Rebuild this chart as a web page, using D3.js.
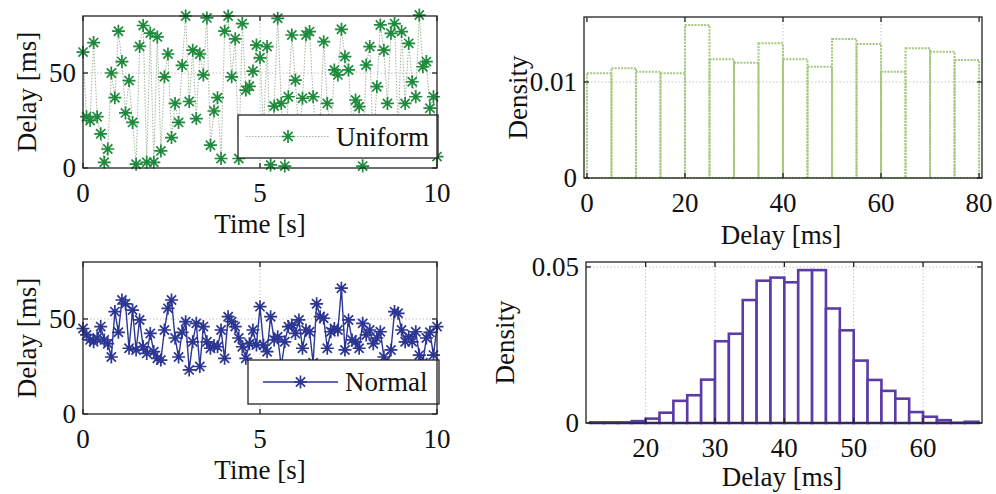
<!DOCTYPE html>
<html><head><meta charset="utf-8">
<script src="https://cdn.jsdelivr.net/npm/d3@7"></script>
<style>body{margin:0;background:#fff}svg{display:block}text{font-family:"Liberation Serif","Times New Roman",serif;fill:#111}</style>
</head><body><svg id="c" width="996" height="494"></svg>
<script>
// ---- data ----
const uniformDelay = [61,27,25,66,27,18,3,10,50,37,72,56,29,46,24,2,64,75,3,71,3,69,9,48,60,16,34,24,54,80,35,62,26,60,49,79,12,30,37,5,72,80,48,68,5,76,41,43,51,64.7,58,20,63.9,1.6,32.6,78.8,34,1,37.5,70,46.3,15,36.7,70,71.8,37.5,12,25,66.5,34,18,51.6,49,73,58.6,51.6,22,35.8,32.3,1,54.2,63.9,10,42.8,75.3,62,34,70.9,76,20,71.8,34,65.6,45.4,37.5,80.5,53.3,56,31.5,37.5,6];
const normalDelay = [45,41.6,39,38,40,46,39,37,30,53.9,43,60,58,34.6,54.7,33.7,49.5,35.4,31.9,42.4,32.8,29.3,28.4,44.2,55.6,60,40,30,43,48.6,23.2,38,47.7,25,46,38,34.6,36,35.4,44.2,29.3,51.2,48.6,46,40,35.4,29.3,37,44.2,36.3,56.5,36.3,32.8,51.2,39,40.7,25,38,46,46.8,42.4,49.5,34.6,44.2,43.3,27,58,51.2,50.4,34.6,43.3,45,44.2,66.2,33.7,49.5,39,38,34.6,47.7,41.6,44.2,37,40,43.3,30,26,33.7,53.9,53,44.2,38,40.7,38,43.3,31,27,40,43,31,46];
const timeStep = 0.1;
const uniformBinEdges = [0,5,10,15,20,25,30,35,40,45,50,55,60,65,70,75,80];
const uniformDensity = [0.0109,0.01143,0.01107,0.0109,0.01594,0.01236,0.01201,0.01403,0.01236,0.0116,0.01448,0.01396,0.01107,0.01351,0.01316,0.0123];
const normalBinEdges = [12,14,16,18,20,22,24,26,28,30,32,34,36,38,40,42,44,46,48,50,52,54,56,58,60,62,64,66,68];
const normalDensity = [0.0002,0.0002,0.0002,0.0006,0.0014,0.0033,0.0071,0.0089,0.0139,0.0262,0.0286,0.0394,0.0456,0.0466,0.0451,0.049,0.049,0.0367,0.0297,0.02,0.0138,0.0103,0.0078,0.0035,0.002,0.0009,0.0001,0.0004];
const timeTicks = [0,5,10], delayTicks = [0,50];
const uDelayTicks = [0,20,40,60,80], uDensTicks = [0,0.01];
const nDelayTicks = [20,30,40,50,60], nDensTicks = [0,0.05];

const svg = d3.select("#c");
const FS = 27;

function frame(g, x, y, xg, yg){
  const [x0,x1]=x.range(), [y0,y1]=y.range();
  g.selectAll(".gx").data(xg).join("line").attr("x1",d=>x(d)).attr("x2",d=>x(d)).attr("y1",y1).attr("y2",y0)
    .attr("stroke","#b5b5b5").attr("stroke-width",0.8).attr("stroke-dasharray","1.5,2");
  g.selectAll(".gy").data(yg).join("line").attr("y1",d=>y(d)).attr("y2",d=>y(d)).attr("x1",x0).attr("x2",x1)
    .attr("stroke","#b5b5b5").attr("stroke-width",0.8).attr("stroke-dasharray","1.5,2");
}
function axesTop(g, x, y, xt, yt, xfmt, yfmt){
  const [x0,x1]=x.range(), [y0,y1]=y.range();
  const ax = g.append("g");
  ax.append("rect").attr("x",x0).attr("y",y1).attr("width",x1-x0).attr("height",y0-y1)
    .attr("fill","none").attr("stroke","#222").attr("stroke-width",1.3);
  const tl=5;
  xt.forEach(d=>{
    ax.append("line").attr("x1",x(d)).attr("x2",x(d)).attr("y1",y0).attr("y2",y0-tl).attr("stroke","#222").attr("stroke-width",1.3);
    ax.append("line").attr("x1",x(d)).attr("x2",x(d)).attr("y1",y1).attr("y2",y1+tl).attr("stroke","#222").attr("stroke-width",1.3);
    ax.append("text").attr("x",x(d)).attr("y",y0+34).attr("text-anchor","middle").attr("font-size",FS).text(xfmt(d));
  });
  yt.forEach(d=>{
    ax.append("line").attr("y1",y(d)).attr("y2",y(d)).attr("x1",x0).attr("x2",x0+tl).attr("stroke","#222").attr("stroke-width",1.3);
    ax.append("line").attr("y1",y(d)).attr("y2",y(d)).attr("x1",x1).attr("x2",x1-tl).attr("stroke","#222").attr("stroke-width",1.3);
    ax.append("text").attr("x",x0-7).attr("y",y(d)+9).attr("text-anchor","end").attr("font-size",FS).text(yfmt(d));
  });
}
function star(r){const d=r*0.707;return `M${-r},0H${r}M0,${-r}V${r}M${-d},${-d}L${d},${d}M${-d},${d}L${d},${-d}`;}

// ---- time series panels ----
function tsPanel(data, top, color, lineStyle, legendBox, name){
  const x=d3.scaleLinear().domain([0,10]).range([83,437]);
  const y=d3.scaleLinear().domain([0,80]).range([top+152,top]);
  const g=svg.append("g");
  frame(g,x,y,[5],[50]);
  const pts=data.map((v,i)=>[i*timeStep,v]);
  const line=d3.line().x(d=>x(d[0])).y(d=>y(d[1]));
  const pl=g.append("path").datum(pts).attr("d",line).attr("fill","none");
  lineStyle(pl);
  g.selectAll(".m").data(pts).join("path").attr("transform",d=>`translate(${x(d[0])},${y(d[1])})`)
    .attr("d",star(6.5)).attr("stroke",color).attr("stroke-width",1.7).attr("fill","none");
  const [lx0,ly0,lx1,ly1,lineX0,lineX1,tx]=legendBox;
  g.append("rect").attr("x",lx0).attr("y",ly0).attr("width",lx1-lx0).attr("height",ly1-ly0).attr("fill","#fff").attr("stroke","#222").attr("stroke-width",1.3);
  const cy=(ly0+ly1)/2;
  const ll=g.append("line").attr("x1",lineX0).attr("x2",lineX1).attr("y1",cy).attr("y2",cy);
  lineStyle(ll);
  g.append("path").attr("transform",`translate(${(lineX0+lineX1)/2},${cy})`).attr("d",star(6.5)).attr("stroke",color).attr("stroke-width",1.7).attr("fill","none");
  g.append("text").attr("x",tx).attr("y",cy+9).attr("font-size",FS).text(name);
  axesTop(g,x,y,timeTicks,delayTicks,d=>d,d=>d);
  g.append("text").attr("x",260).attr("y",top+217).attr("text-anchor","middle").attr("font-size",FS).text("Time [s]");
  g.append("text").attr("transform",`translate(36,${top+76}) rotate(-90)`).attr("text-anchor","middle").attr("font-size",FS).text("Delay [ms]");
}
tsPanel(uniformDelay,16,"#1e8a3c",s=>s.attr("stroke","#9fb59a").attr("stroke-width",1).attr("stroke-dasharray","1.5,1.5"),[238,115,438,158,246,330,336],"Uniform");
tsPanel(normalDelay,262,"#2b3592",s=>s.attr("stroke","#2b3592").attr("stroke-width",1.4),[248,360,439,404,263,338,345],"Normal");

// ---- histograms ----
function histPanel(edges, dens, xd, yd, xr, yr, xt, yt, xg, yg, xfmt, yfmt, styleFn, labelX, labelY){
  const x=d3.scaleLinear().domain(xd).range(xr);
  const y=d3.scaleLinear().domain(yd).range(yr);
  const g=svg.append("g");
  frame(g,x,y,xg,yg);
  const bins=dens.map((v,i)=>({a:edges[i],b:edges[i+1],v}));
  const r=g.selectAll(".b").data(bins).join("rect").attr("x",d=>x(d.a)).attr("width",d=>x(d.b)-x(d.a))
    .attr("y",d=>y(d.v)).attr("height",d=>y(0)-y(d.v));
  styleFn(r);
  axesTop(g,x,y,xt,yt,xfmt,yfmt);
  g.append("text").attr("x",(xr[0]+xr[1])/2-2).attr("y",labelY).attr("text-anchor","middle").attr("font-size",FS).text("Delay [ms]");
  g.append("text").attr("transform",`translate(${labelX},${(yr[0]+yr[1])/2}) rotate(-90)`).attr("text-anchor","middle").attr("font-size",FS).text("Density");
}
histPanel(uniformBinEdges,uniformDensity,[-0.6,80.6],[0,0.01677],[584,982],[178,17],uDelayTicks,uDensTicks,[20,40,60],[0.01],
  d=>d,d=>d===0?"0":"0.01",
  r=>r.attr("fill","none").attr("stroke","#a3c97c").attr("stroke-width",2).attr("stroke-dasharray","2,1.2"),527,244);
histPanel(normalBinEdges,normalDensity,[11.4,68.5],[0,0.0516],[586,982],[423,262],nDelayTicks,nDensTicks,[20,30,40,50,60],[0.05],
  d=>d,d=>d===0?"0":"0.05",
  r=>r.attr("fill","#fff").attr("stroke","#5b3ca6").attr("stroke-width",2.6),514,486);
</script></body></html>
